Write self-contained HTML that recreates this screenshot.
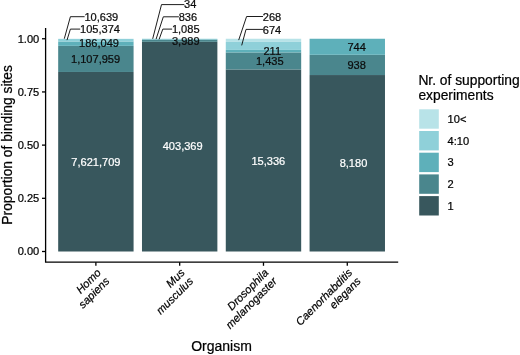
<!DOCTYPE html><html><head><meta charset="utf-8"><title>chart</title><style>html,body{margin:0;padding:0;background:#fff}svg{display:block}text{stroke:#000;stroke-width:0.22px}text.w{stroke:#fff}</style></head><body><svg width="520" height="355" viewBox="0 0 520 355" font-family="Liberation Sans, Arial, Helvetica, sans-serif">
<rect width="520" height="355" fill="#fff"/>
<rect x="58.18" y="71.96" width="75.40" height="179.54" fill="#38575d"/>
<rect x="58.18" y="45.87" width="75.40" height="26.10" fill="#4a868d"/>
<rect x="58.18" y="41.48" width="75.40" height="4.38" fill="#5eb0ba"/>
<rect x="58.18" y="39.00" width="75.40" height="2.48" fill="#8fd0d9"/>
<rect x="58.18" y="38.75" width="75.40" height="0.25" fill="#b8e3e8"/>
<rect x="141.98" y="41.84" width="75.40" height="209.66" fill="#38575d"/>
<rect x="141.98" y="39.77" width="75.40" height="2.07" fill="#4a868d"/>
<rect x="141.98" y="39.20" width="75.40" height="0.56" fill="#5eb0ba"/>
<rect x="141.98" y="38.77" width="75.40" height="0.43" fill="#8fd0d9"/>
<rect x="141.98" y="38.75" width="75.40" height="0.02" fill="#b8e3e8"/>
<rect x="225.78" y="69.47" width="75.40" height="182.03" fill="#38575d"/>
<rect x="225.78" y="52.44" width="75.40" height="17.03" fill="#4a868d"/>
<rect x="225.78" y="49.93" width="75.40" height="2.50" fill="#5eb0ba"/>
<rect x="225.78" y="41.93" width="75.40" height="8.00" fill="#8fd0d9"/>
<rect x="225.78" y="38.75" width="75.40" height="3.18" fill="#b8e3e8"/>
<rect x="309.58" y="75.04" width="75.40" height="176.46" fill="#38575d"/>
<rect x="309.58" y="54.80" width="75.40" height="20.24" fill="#4a868d"/>
<rect x="309.58" y="38.75" width="75.40" height="16.05" fill="#5eb0ba"/>
<path d="M45.6 28.71V262.20H397.56" fill="none" stroke="#000" stroke-width="1.3" stroke-linecap="square"/>
<path d="M42.0 251.50H45.6" stroke="#000" stroke-width="1.3"/>
<text x="39.300000000000004" y="255.25" font-size="11.1" text-anchor="end" fill="#000">0.00</text>
<path d="M42.0 198.31H45.6" stroke="#000" stroke-width="1.3"/>
<text x="39.300000000000004" y="202.06" font-size="11.1" text-anchor="end" fill="#000">0.25</text>
<path d="M42.0 145.12H45.6" stroke="#000" stroke-width="1.3"/>
<text x="39.300000000000004" y="148.88" font-size="11.1" text-anchor="end" fill="#000">0.50</text>
<path d="M42.0 91.94H45.6" stroke="#000" stroke-width="1.3"/>
<text x="39.300000000000004" y="95.69" font-size="11.1" text-anchor="end" fill="#000">0.75</text>
<path d="M42.0 38.75H45.6" stroke="#000" stroke-width="1.3"/>
<text x="39.300000000000004" y="42.50" font-size="11.1" text-anchor="end" fill="#000">1.00</text>
<path d="M95.88 262.20v3.6" stroke="#000" stroke-width="1.3"/>
<path d="M179.68 262.20v3.6" stroke="#000" stroke-width="1.3"/>
<path d="M263.48 262.20v3.6" stroke="#000" stroke-width="1.3"/>
<path d="M347.28 262.20v3.6" stroke="#000" stroke-width="1.3"/>
<g transform="translate(97.38,269.20) rotate(-45)" font-size="11.1" font-style="italic" text-anchor="end" fill="#000"><text x="0" y="6" >Homo</text><text x="0" y="18">sapiens</text></g>
<g transform="translate(181.18,269.20) rotate(-45)" font-size="11.1" font-style="italic" text-anchor="end" fill="#000"><text x="0" y="6" >Mus</text><text x="0" y="18">musculus</text></g>
<g transform="translate(264.98,269.20) rotate(-45)" font-size="11.1" font-style="italic" text-anchor="end" fill="#000"><text x="0" y="6" >Drosophila</text><text x="0" y="18">melanogaster</text></g>
<g transform="translate(348.78,269.20) rotate(-45)" font-size="11.1" font-style="italic" text-anchor="end" fill="#000"><text x="0" y="6" >Caenorhabditis</text><text x="0" y="18">elegans</text></g>
<text x="221.5" y="351.3" font-size="14.0" text-anchor="middle" fill="#000">Organism</text>
<text transform="translate(11.6,144.9) rotate(-90)" font-size="13.8" text-anchor="middle" fill="#000">Proportion of binding sites</text>
<text x="418.4" y="84.6" font-size="13.8" fill="#000">Nr. of supporting</text>
<text x="418.4" y="99.7" font-size="13.8" fill="#000">experiments</text>
<rect x="419.2" y="109.30" width="19.6" height="19.4" fill="#b8e3e8"/>
<text x="447.6" y="123.00" font-size="11.1" fill="#000">10&lt;</text>
<rect x="419.2" y="131.00" width="19.6" height="19.4" fill="#8fd0d9"/>
<text x="447.6" y="144.70" font-size="11.1" fill="#000">4:10</text>
<rect x="419.2" y="152.70" width="19.6" height="19.4" fill="#5eb0ba"/>
<text x="447.6" y="166.40" font-size="11.1" fill="#000">3</text>
<rect x="419.2" y="174.40" width="19.6" height="19.4" fill="#4a868d"/>
<text x="447.6" y="188.10" font-size="11.1" fill="#000">2</text>
<rect x="419.2" y="196.10" width="19.6" height="19.4" fill="#38575d"/>
<text x="447.6" y="209.80" font-size="11.1" fill="#000">1</text>
<text class="w" x="95.88" y="166.00" font-size="11.05" text-anchor="middle" fill="#fff">7,621,709</text>
<text x="95.58" y="62.60" font-size="11.05" text-anchor="middle" fill="#111">1,107,959</text>
<text x="98.98" y="46.90" font-size="11.05" text-anchor="middle" fill="#111">186,049</text>
<text class="w" x="182.68" y="150.40" font-size="11.05" text-anchor="middle" fill="#fff">403,369</text>
<text class="w" x="268.28" y="164.50" font-size="11.05" text-anchor="middle" fill="#fff">15,336</text>
<text class="w" x="353.48" y="166.90" font-size="11.05" text-anchor="middle" fill="#fff">8,180</text>
<text x="269.78" y="64.60" font-size="11.05" text-anchor="middle" fill="#111">1,435</text>
<text x="272.28" y="54.80" font-size="11.05" text-anchor="middle" fill="#111">211</text>
<text x="356.68" y="68.80" font-size="11.05" text-anchor="middle" fill="#111">938</text>
<text x="356.68" y="50.70" font-size="11.05" text-anchor="middle" fill="#111">744</text>
<text x="185.78" y="45.20" font-size="11.05" text-anchor="middle" fill="#111">3,989</text>
<path d="M64.3 38.7L70.4 16.7H84.6" fill="none" stroke="#111" stroke-width="0.95"/>
<text x="84.40" y="20.50" font-size="11.05" text-anchor="start" fill="#111">10,639</text>
<path d="M67.0 40.1L70.4 29.1H80.2" fill="none" stroke="#111" stroke-width="0.95"/>
<text x="80.00" y="32.90" font-size="11.05" text-anchor="start" fill="#111">105,374</text>
<path d="M152.7 38.8L161.5 4.6H184.3" fill="none" stroke="#111" stroke-width="0.95"/>
<text x="184.10" y="8.40" font-size="11.05" text-anchor="start" fill="#111">34</text>
<path d="M156.1 39.1L163.3 16.8H178.9" fill="none" stroke="#111" stroke-width="0.95"/>
<text x="178.70" y="20.60" font-size="11.05" text-anchor="start" fill="#111">836</text>
<path d="M159.1 39.4L162.8 29.1H172.1" fill="none" stroke="#111" stroke-width="0.95"/>
<text x="171.90" y="32.90" font-size="11.05" text-anchor="start" fill="#111">1,085</text>
<path d="M238.7 40.1L246.6 16.5H263" fill="none" stroke="#111" stroke-width="0.95"/>
<text x="262.80" y="20.80" font-size="11.05" text-anchor="start" fill="#111">268</text>
<path d="M241.7 45.4L246 29.4H263" fill="none" stroke="#111" stroke-width="0.95"/>
<text x="262.80" y="33.60" font-size="11.05" text-anchor="start" fill="#111">674</text>
</svg></body></html>
